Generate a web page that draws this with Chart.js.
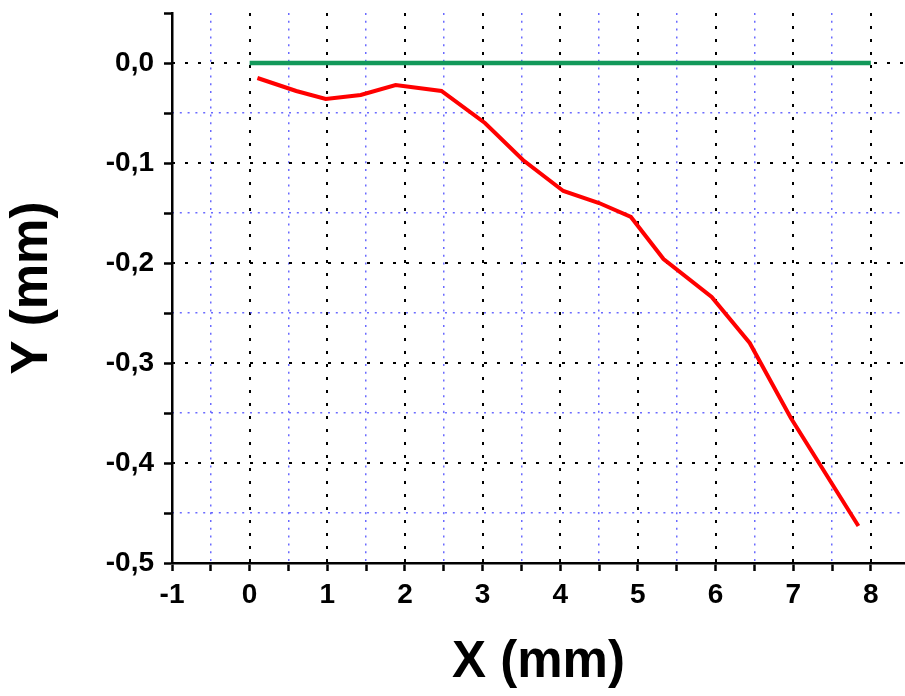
<!DOCTYPE html>
<html>
<head>
<meta charset="utf-8">
<script src="https://cdn.jsdelivr.net/npm/chart.js@4.4.1/dist/chart.umd.min.js"></script>
<style>
  html, body { margin: 0; padding: 0; background: #fff; }
  #wrap { width: 905px; height: 696px; }
</style>
</head>
<body>
<div id="wrap"><canvas id="chart" width="905" height="696"></canvas></div>
<script>
// ====================
// DATA
// ====================
const baseX = [0, 8];
const baseY = [0, 0];

const profileX = [0.1, 0.6, 0.98, 1.43, 1.88, 2.47, 3.03, 3.52, 4.04, 4.5, 4.91, 5.33, 5.95, 6.44, 6.97, 7.84];
const profileY = [-0.015, -0.028, -0.036, -0.032, -0.022, -0.028, -0.060, -0.097, -0.128, -0.140, -0.154, -0.196, -0.234, -0.280, -0.355, -0.463];

const xRange = [-1, 8.44];
const yRange = [-0.5, 0.05];

const xTitle = 'X (mm)';
const yTitle = 'Y (mm)';

const toPoints = (xs, ys) => xs.map((x, i) => ({ x: x, y: ys[i] }));

// ====================
// HELPERS
// ====================
const onStep = (v, step) => Math.abs(v / step - Math.round(v / step)) < 1e-6;

// ticks every `step` inside the range (chart.js would swap the last one for max)
function stepTicks(step) {
  return function (scale) {
    const ticks = [];
    const first = Math.ceil(scale.min / step - 1e-6);
    const last = Math.floor(scale.max / step + 1e-6);
    for (let i = first; i <= last; i++) ticks.push({ value: Math.round(i * step * 1000) / 1000 });
    scale.ticks = ticks;
  };
}

function noPad(s) {
  s.paddingTop = 0; s.paddingBottom = 0;
  s.paddingLeft = 0; s.paddingRight = 0;
}

function yLabel(value) {
  if (!onStep(value, 0.1)) return '';
  const v = Math.round(value * 10) / 10;
  return (v === 0 ? 0 : v).toFixed(1).replace('.', ',');
}

const tickFont = { family: '"Liberation Sans", Arial, sans-serif', size: 28, weight: 'bold' };
const titleFont = { family: '"Liberation Sans", Arial, sans-serif', size: 51, weight: 'bold' };
const blueDots = 'rgba(80,80,255,0.85)';

// grid-only axis (no labels, no size)
function gridAxis(pos, range, step, color, dash, width, skipFn) {
  return {
    type: 'linear',
    position: pos,
    min: range[0],
    max: range[1],
    ticks: { display: false, stepSize: step },
    afterBuildTicks: stepTicks(step),
    afterFit: s => { noPad(s); if (pos === 'top') s.height = 0; else s.width = 0; },
    border: { display: false, dash: dash },
    grid: {
      drawTicks: false,
      lineWidth: width,
      color: ctx => (ctx.tick && skipFn(ctx.tick.value)) ? 'rgba(0,0,0,0)' : color
    }
  };
}

// ====================
// CHART
// ====================
new Chart(document.getElementById('chart'), {
  type: 'line',
  data: {
    datasets: [
      {
        data: toPoints(baseX, baseY),
        borderColor: '#13995a',
        borderWidth: 4.5,
        pointRadius: 0,
        order: 2
      },
      {
        data: toPoints(profileX, profileY),
        borderColor: '#ff0000',
        borderWidth: 4,
        pointRadius: 0,
        order: 1
      }
    ]
  },
  options: {
    responsive: false,
    animation: false,
    layout: { padding: { top: 13, right: 0, left: 0, bottom: 0 } },
    plugins: { legend: { display: false }, tooltip: { enabled: false } },
    scales: {
      xMin: gridAxis('top', xRange, 0.5, blueDots, [2, 5.8], 1.5, v => onStep(v, 1)),
      xMaj: gridAxis('top', xRange, 1, '#000', [3, 10], 2, v => false),
      yMin: gridAxis('right', yRange, 0.05, blueDots, [2, 5.8], 1.5, v => onStep(v, 0.1) || v > 0.04),
      yMaj: gridAxis('right', yRange, 0.1, '#000', [3, 10], 2, v => false),
      x: {
        type: 'linear',
        position: 'bottom',
        min: xRange[0],
        max: xRange[1],
        afterBuildTicks: stepTicks(0.5),
        afterFit: s => { noPad(s); s.height = 133; },
        ticks: {
          stepSize: 0.5,
          color: '#000',
          font: tickFont,
          padding: 7,
          maxRotation: 0,
          autoSkip: false,
          callback: v => onStep(v, 1) ? String(Math.round(v)) : ''
        },
        grid: {
          drawOnChartArea: false,
          tickLength: 8,
          tickWidth: 2.5,
          tickColor: '#000'
        },
        border: { color: '#000', width: 2.5 },
        title: {
          display: true,
          text: xTitle,
          color: '#000',
          font: titleFont,
          padding: { top: 0, bottom: 2 }
        }
      },
      y: {
        type: 'linear',
        position: 'left',
        min: yRange[0],
        max: yRange[1],
        afterBuildTicks: stepTicks(0.05),
        afterFit: s => { noPad(s); s.width = 172; },
        ticks: {
          stepSize: 0.05,
          color: '#000',
          font: tickFont,
          padding: 10,
          autoSkip: false,
          callback: yLabel
        },
        grid: {
          drawOnChartArea: false,
          tickLength: 8,
          tickWidth: 2.5,
          tickColor: '#000'
        },
        border: { color: '#000', width: 2.5 },
        title: {
          display: true,
          text: yTitle,
          color: '#000',
          font: titleFont,
          padding: { top: 2, bottom: 0 }
        }
      }
    }
  }
});
</script>
</body>
</html>
